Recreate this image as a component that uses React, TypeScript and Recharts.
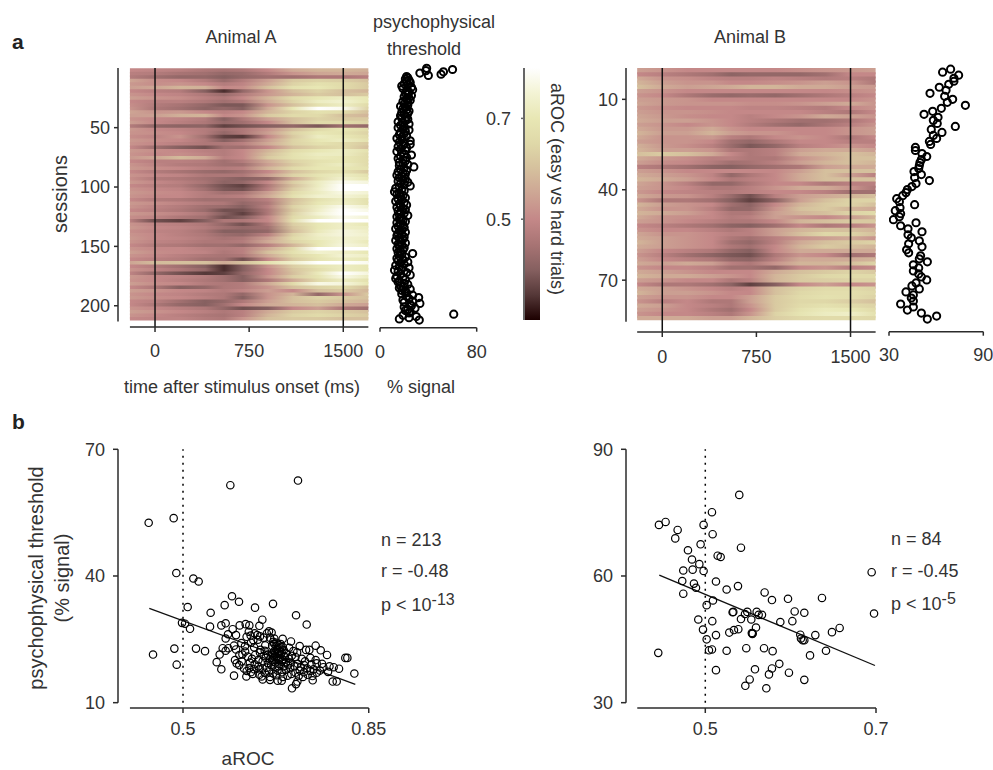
import { ReferenceArea, ReferenceLine, Scatter, ScatterChart, XAxis, YAxis } from 'recharts'

const FONT = '"Liberation Sans", Arial, sans-serif'
const INK = '#333'
const AXIS = '#2b2b2b'

// aROC colour scale
const scaleValues = [0.3, 0.35, 0.4, 0.45, 0.5, 0.55, 0.6, 0.65, 0.7, 0.75, 0.8]
const scaleColors = ['#1c0000', '#553838', '#866060', '#a87474', '#c48888', '#cda594', '#d5c09d', '#dfd8a8', '#e8e7b4', '#f3f3d4', '#ffffff']

// time stops of every heat map row (ms)
const heatTimes = [-200, 0, 200, 400, 550, 700, 900, 1100, 1300, 1500, 1700]

// aROC x 100, top row first
const heatA = [
  [50, 49, 48, 46, 45, 46, 50, 56, 58, 58, 57],
  [48, 47, 45, 44, 42, 43, 47, 52, 55, 56, 55],
  [47, 44, 42, 42, 40, 42, 44, 44, 46, 46, 48],
  [55, 51, 50, 47, 43, 47, 54, 62, 64, 63, 60],
  [53, 51, 52, 50, 47, 49, 56, 64, 68, 66, 62],
  [54, 55, 58, 57, 50, 51, 60, 68, 70, 66, 62],
  [50, 48, 47, 40, 34, 42, 52, 60, 64, 60, 58],
  [52, 50, 49, 46, 43, 47, 53, 58, 62, 60, 62],
  [54, 52, 51, 48, 46, 50, 58, 66, 70, 72, 70],
  [50, 48, 48, 46, 44, 46, 56, 64, 72, 74, 70],
  [51, 47, 45, 42, 39, 39, 52, 60, 68, 72, 66],
  [52, 46, 44, 41, 42, 40, 56, 70, 80, 78, 64],
  [55, 52, 53, 50, 48, 50, 58, 64, 68, 66, 60],
  [54, 54, 57, 58, 50, 52, 62, 66, 66, 60, 58],
  [52, 50, 49, 47, 40, 46, 54, 60, 64, 62, 62],
  [54, 50, 48, 46, 42, 44, 50, 60, 66, 66, 64],
  [47, 42, 41, 41, 36, 38, 40, 42, 39, 44, 42],
  [53, 50, 49, 47, 44, 46, 52, 60, 66, 70, 66],
  [52, 51, 50, 47, 42, 46, 54, 64, 70, 68, 64],
  [51, 49, 52, 44, 36, 35, 50, 62, 72, 70, 66],
  [53, 51, 50, 46, 40, 44, 54, 64, 70, 72, 68],
  [52, 50, 48, 46, 46, 48, 56, 64, 68, 66, 62],
  [50, 44, 40, 38, 44, 44, 50, 60, 64, 66, 60],
  [53, 51, 50, 48, 47, 50, 58, 66, 70, 72, 68],
  [52, 50, 51, 49, 47, 50, 60, 68, 72, 72, 66],
  [53, 55, 59, 56, 48, 50, 62, 68, 71, 70, 66],
  [50, 48, 48, 47, 44, 47, 56, 64, 68, 70, 66],
  [52, 49, 47, 46, 44, 44, 54, 62, 69, 72, 66],
  [53, 51, 50, 48, 47, 48, 58, 66, 70, 70, 68],
  [50, 47, 45, 43, 42, 44, 50, 60, 65, 68, 62],
  [52, 50, 49, 46, 46, 46, 54, 64, 69, 72, 68],
  [51, 47, 46, 44, 42, 40, 42, 56, 67, 74, 70],
  [53, 50, 48, 45, 41, 42, 50, 63, 72, 78, 76],
  [50, 48, 47, 42, 38, 36, 46, 60, 72, 84, 82],
  [52, 50, 49, 44, 39, 38, 48, 63, 73, 86, 84],
  [53, 51, 50, 47, 44, 45, 54, 66, 72, 77, 75],
  [52, 50, 50, 47, 47, 48, 56, 68, 74, 75, 72],
  [50, 47, 46, 44, 44, 44, 48, 60, 68, 72, 68],
  [53, 51, 49, 47, 46, 42, 46, 61, 70, 73, 68],
  [52, 49, 47, 44, 43, 40, 48, 64, 72, 78, 74],
  [50, 48, 46, 43, 38, 38, 46, 62, 73, 81, 77],
  [53, 51, 49, 46, 40, 36, 46, 64, 75, 88, 86],
  [51, 49, 46, 44, 38, 40, 50, 66, 72, 78, 75],
  [48, 38, 36, 40, 46, 46, 50, 68, 86, 88, 82],
  [52, 49, 48, 46, 42, 38, 46, 63, 70, 73, 70],
  [53, 50, 49, 47, 44, 42, 44, 61, 70, 73, 72],
  [51, 49, 48, 45, 40, 40, 42, 59, 71, 76, 73],
  [52, 50, 48, 46, 43, 42, 48, 64, 73, 76, 74],
  [53, 50, 49, 47, 45, 46, 54, 66, 72, 74, 73],
  [52, 49, 48, 46, 46, 47, 56, 64, 70, 75, 71],
  [50, 47, 46, 44, 44, 42, 48, 58, 70, 76, 73],
  [52, 50, 50, 48, 47, 48, 56, 66, 86, 88, 82],
  [54, 51, 50, 49, 46, 48, 60, 68, 74, 73, 70],
  [52, 50, 48, 46, 45, 46, 56, 65, 70, 75, 73],
  [50, 48, 47, 44, 44, 38, 50, 62, 69, 72, 70],
  [55, 59, 60, 60, 56, 60, 68, 74, 85, 85, 78],
  [50, 47, 44, 40, 34, 40, 52, 63, 69, 72, 70],
  [52, 49, 46, 42, 34, 40, 50, 61, 67, 72, 70],
  [49, 42, 38, 35, 36, 42, 50, 60, 71, 81, 76],
  [53, 50, 49, 47, 44, 40, 52, 63, 69, 77, 72],
  [52, 50, 48, 46, 44, 40, 46, 56, 66, 72, 68],
  [54, 51, 50, 47, 46, 47, 56, 66, 77, 76, 70],
  [50, 46, 40, 42, 46, 47, 52, 60, 64, 66, 60],
  [54, 52, 50, 49, 47, 49, 54, 50, 60, 62, 58],
  [52, 50, 49, 47, 46, 42, 52, 58, 42, 52, 62],
  [53, 51, 50, 48, 46, 40, 52, 60, 64, 62, 60],
  [50, 48, 44, 40, 42, 46, 54, 60, 62, 60, 58],
  [50, 46, 42, 40, 44, 50, 56, 58, 60, 56, 54],
  [52, 50, 48, 46, 42, 38, 40, 50, 54, 46, 44],
  [54, 52, 50, 48, 46, 48, 56, 62, 64, 62, 60],
  [52, 50, 48, 46, 45, 48, 58, 64, 66, 64, 62],
  [50, 49, 49, 47, 46, 52, 60, 62, 62, 60, 60],
]

const heatB = [
  [54, 52, 50, 50, 50, 50, 50, 51, 52, 53, 54],
  [50, 48, 46, 44, 41, 42, 42, 42, 44, 50, 50],
  [56, 52, 51, 49, 48, 48, 49, 48, 47, 48, 46],
  [58, 54, 52, 52, 50, 50, 51, 52, 54, 52, 46],
  [60, 56, 54, 55, 56, 58, 58, 56, 56, 54, 53],
  [54, 52, 50, 50, 50, 50, 50, 50, 50, 51, 52],
  [52, 50, 46, 43, 42, 43, 42, 44, 46, 48, 50],
  [54, 53, 52, 50, 50, 50, 50, 50, 50, 50, 52],
  [55, 53, 52, 52, 52, 51, 51, 52, 54, 56, 52],
  [53, 51, 50, 50, 50, 49, 49, 48, 47, 50, 52],
  [54, 52, 52, 51, 50, 50, 50, 50, 48, 46, 50],
  [55, 53, 51, 50, 50, 48, 50, 52, 56, 54, 52],
  [56, 54, 54, 52, 50, 48, 46, 44, 44, 46, 50],
  [54, 52, 50, 52, 50, 47, 44, 42, 45, 48, 52],
  [56, 53, 53, 56, 52, 50, 50, 50, 50, 52, 54],
  [58, 54, 54, 58, 54, 52, 52, 50, 50, 52, 54],
  [56, 52, 52, 53, 48, 46, 50, 52, 50, 46, 50],
  [54, 52, 52, 50, 44, 42, 46, 50, 50, 48, 48],
  [57, 53, 51, 48, 43, 39, 42, 48, 50, 52, 50],
  [58, 54, 54, 52, 46, 46, 48, 54, 56, 56, 54],
  [60, 62, 60, 56, 50, 46, 48, 56, 58, 60, 58],
  [56, 53, 51, 48, 48, 46, 46, 52, 56, 60, 60],
  [54, 51, 50, 47, 44, 45, 48, 54, 58, 60, 58],
  [48, 46, 44, 41, 40, 42, 44, 46, 54, 56, 56],
  [54, 52, 50, 50, 50, 50, 50, 54, 60, 60, 60],
  [56, 54, 52, 49, 42, 46, 50, 56, 60, 54, 48],
  [58, 56, 54, 50, 46, 48, 50, 56, 60, 60, 60],
  [55, 52, 48, 42, 42, 46, 50, 50, 46, 48, 48],
  [54, 52, 50, 46, 46, 48, 52, 56, 56, 52, 46],
  [53, 50, 49, 48, 47, 48, 50, 50, 48, 44, 44],
  [56, 53, 52, 48, 43, 38, 48, 54, 56, 58, 60],
  [52, 46, 46, 44, 40, 36, 41, 54, 60, 64, 64],
  [58, 54, 52, 50, 44, 41, 50, 58, 62, 64, 60],
  [56, 52, 52, 48, 42, 42, 52, 60, 62, 58, 56],
  [58, 56, 54, 50, 46, 46, 54, 58, 60, 64, 66],
  [56, 52, 51, 50, 47, 48, 54, 52, 50, 54, 58],
  [54, 52, 50, 48, 46, 46, 50, 58, 60, 62, 62],
  [50, 48, 46, 44, 41, 40, 44, 50, 46, 48, 52],
  [52, 50, 50, 48, 46, 48, 54, 58, 60, 60, 58],
  [55, 52, 52, 50, 48, 48, 54, 60, 65, 64, 60],
  [56, 54, 52, 50, 46, 44, 48, 52, 54, 56, 52],
  [58, 54, 52, 50, 44, 42, 48, 56, 60, 62, 64],
  [56, 54, 52, 50, 46, 44, 50, 58, 62, 60, 58],
  [54, 50, 48, 46, 42, 40, 50, 56, 56, 56, 56],
  [52, 48, 44, 41, 39, 38, 46, 52, 50, 44, 46],
  [54, 50, 48, 46, 42, 41, 48, 56, 56, 56, 58],
  [56, 54, 56, 54, 48, 46, 52, 58, 58, 60, 64],
  [52, 50, 50, 48, 44, 44, 42, 50, 52, 48, 50],
  [56, 54, 52, 50, 50, 50, 56, 60, 62, 64, 62],
  [58, 56, 56, 54, 52, 50, 58, 62, 65, 66, 66],
  [54, 52, 50, 50, 46, 48, 58, 62, 63, 64, 64],
  [50, 46, 46, 44, 41, 36, 40, 50, 54, 50, 52],
  [56, 54, 52, 50, 48, 50, 60, 64, 66, 66, 64],
  [58, 54, 54, 52, 50, 50, 60, 65, 67, 67, 65],
  [54, 52, 52, 50, 50, 54, 62, 66, 68, 67, 64],
  [52, 48, 50, 46, 46, 54, 62, 65, 65, 63, 60],
  [56, 54, 50, 48, 46, 52, 62, 66, 68, 66, 64],
  [54, 52, 50, 46, 44, 50, 62, 68, 71, 70, 66],
  [52, 50, 50, 48, 46, 52, 64, 69, 72, 73, 68],
  [56, 56, 56, 54, 54, 58, 63, 65, 66, 66, 65],
]

// psychophysical threshold per session (% signal)
const thresholdA = [
  38.6, 60, 38, 52.5, 33, 50.5, 40, 22, 23, 21,
  24, 22, 25, 20, 23, 18, 26, 19, 27, 22,
  24, 21, 23, 26, 20, 24, 22, 25, 19, 23,
  20, 23, 17, 21, 19, 22, 24, 18, 23, 20,
  17, 22, 18, 23, 21, 15, 19, 24, 17, 20,
  15, 19, 24, 21, 17, 20, 16, 22, 18, 14,
  18, 25, 16, 20, 25, 19, 15, 22, 17, 21,
  14, 18, 20, 26, 17, 22, 15, 19, 21, 16,
  19, 23, 16, 28, 20, 17, 22, 15, 19, 21,
  14, 18, 16, 21, 19, 15, 23, 17, 20, 25,
  16, 13, 18, 20, 12, 16, 14, 19, 17, 21,
  15, 18, 13, 20, 16, 22, 17, 14, 19, 21,
  15, 17, 20, 16, 23, 14, 18, 16, 19, 21,
  14, 17, 19, 15, 20, 13, 18, 16, 21, 15,
  18, 14, 20, 16, 19, 13, 17, 21, 15, 18,
  16, 20, 14, 19, 17, 15, 27, 18, 16, 21,
  14, 19, 15, 23, 17, 20, 13, 16, 24, 18,
  12, 15, 22, 17, 25, 14, 19, 13, 21, 16,
  15, 20, 23, 17, 19, 16, 25, 18, 21, 22,
  18, 27, 22, 32, 24, 19, 27, 20, 33, 25,
  26, 20, 29, 23, 21, 25, 24, 61, 19, 30,
  24, 16, 32.5,
]

const thresholdB = [
  69.2, 64.1, 74.3, 71.3, 71.3, 68, 62, 66.3, 56.1, 65.4,
  70.5, 67.1, 78.6, 63.3, 57.8, 52.3, 61.2, 58.2, 60.7, 72.2,
  56.9, 63.7, 58.2, 60.3, 55.7, 56.5, 46.8, 46.8, 51, 54,
  50.6, 49.7, 49.3, 48.9, 45.9, 50.6, 46.3, 55.7, 47.2, 44.6,
  41.7, 40.8, 38.7, 34.9, 36.6, 46.3, 37, 34, 37.4, 36.6,
  32.8, 47.2, 37.4, 42.1, 51, 42.1, 44.2, 49.3, 42.5, 51,
  41.2, 42.5, 50.1, 49.3, 54.4, 45.5, 48.9, 45.5, 48.9, 50.6,
  54, 47.2, 44.6, 49.3, 40.8, 45.5, 44.2, 45.5, 37.4, 45.5,
  41.7, 50.6, 60.3, 54.4,
]

// panel b, animal A
const rocA = [
  0.4353, 0.4824, 0.5892, 0.7167, 0.4874, 0.5195, 0.5295, 0.5923, 0.6055, 0.5785,
  0.5088, 0.6357, 0.6696, 0.5521, 0.713, 0.6495, 0.7331, 0.4981, 0.5038, 0.5132,
  0.5509, 0.5722, 0.5804, 0.5936, 0.6068, 0.6181, 0.625, 0.6439, 0.4435, 0.4837,
  0.4881, 0.5245, 0.5415, 0.5635, 0.5722, 0.5691, 0.5961, 0.6194, 0.5804, 0.5848,
  0.5999, 0.5748, 0.5804, 0.5854, 0.5961, 0.5999, 0.598, 0.6011, 0.6106, 0.6062,
  0.6199, 0.6275, 0.64, 0.6168, 0.6326, 0.7035, 0.6878, 0.7199, 0.7318, 0.7381,
  0.75, 0.7595, 0.7714, 0.7519, 0.7645, 0.7839, 0.794, 0.8059, 0.8097, 0.8229,
  0.7821, 0.7896, 0.7733, 0.7444, 0.7054, 0.7155, 0.713, 0.686, 0.6784, 0.664,
  0.6501, 0.6482, 0.6313, 0.625, 0.6439,
  0.628, 0.634, 0.641, 0.646, 0.652, 0.655, 0.658, 0.662, 0.667, 0.672,
  0.676, 0.68, 0.684, 0.688, 0.678, 0.672, 0.682, 0.69, 0.694, 0.668,
  0.66, 0.652, 0.645, 0.636, 0.63, 0.622, 0.626, 0.635, 0.642, 0.65,
  0.656, 0.664, 0.67, 0.676, 0.682, 0.688, 0.694, 0.7, 0.705, 0.712,
  0.698, 0.69, 0.682, 0.674, 0.666, 0.658, 0.65, 0.642, 0.634, 0.628,
  0.644, 0.654, 0.662, 0.67, 0.678, 0.686, 0.694, 0.702, 0.71, 0.716,
  0.722, 0.728, 0.734, 0.74, 0.746, 0.752, 0.758, 0.728, 0.72, 0.712,
  0.704, 0.697, 0.688, 0.676, 0.664, 0.718, 0.726, 0.735, 0.744, 0.703,
  0.708, 0.7, 0.715, 0.724, 0.73, 0.742, 0.75, 0.762, 0.776, 0.74,
  0.668, 0.676, 0.684, 0.69, 0.678, 0.672, 0.68, 0.686, 0.674, 0.66,
  0.654, 0.67, 0.664, 0.645, 0.635, 0.617, 0.612, 0.606, 0.615, 0.62,
  0.61, 0.624, 0.674, 0.678, 0.682, 0.67, 0.668, 0.684, 0.676, 0.672,
  0.686, 0.692, 0.68,
]
const thrA = [
  52.6, 53.7, 61.5, 62.6, 40.7, 39.4, 38.7, 35.2, 33.9, 33.1,
  32.65, 32.5, 33.4, 31.3, 30.7, 29.65, 28.5, 28.9, 28.7, 27.5,
  28, 28.3, 28.8, 27.4, 28.3, 28.6, 28.3, 28.2, 21.4, 22.8,
  19, 22.8, 22.2, 19.6, 17.9, 21.4, 16.4, 16.2, 25.2, 26.2,
  26, 22.9, 22.3, 22.9, 23.5, 22.6, 20.1, 19.3, 19.8, 21.3,
  25.6, 25.9, 26, 23.4, 24.8, 24.5, 25.1, 23.4, 22.5, 22.5,
  23.5, 22.4, 21.3, 19.3, 18.4, 18.4, 18.05, 20.6, 20.6, 16.9,
  15, 15, 17.3, 15.3, 13.4, 15, 14.4, 15.2, 15.2, 15.4,
  15.5, 16.2, 16.8, 18.2, 17.9,
  24.2, 23.1, 24.9, 22.5, 25.4, 23.6, 26.4, 26.9, 26.6, 25.2,
  24.2, 23.7, 23.9, 23.2, 22.8, 22.2, 22.1, 22.4, 21.7, 21.6,
  21.4, 21.1, 21.9, 21.3, 20.4, 20.9, 19.5, 19.1, 20.1, 19.8,
  20.6, 20.3, 19.7, 20.9, 20.5, 20.1, 19.6, 20.4, 21.1, 20.8,
  18.9, 18.6, 19.1, 18.5, 18.9, 18.3, 18.1, 18.6, 17.9, 17.2,
  16.6, 17.1, 17.4, 16.9, 17.6, 17.2, 17.8, 18.2, 18.6, 19.2,
  18.4, 18.9, 18.1, 17.5, 17.9, 17.1, 17.6, 17.2, 17.6, 17.1,
  16.8, 16.4, 16.1, 16.5, 16.1, 16.3, 16.1, 16.6, 16.3, 19.5,
  22.2, 23, 21.9, 20.4, 19.8, 19.1, 20.1, 19.2, 18.6, 20.6,
  23.4, 22.6, 21.4, 21.1, 21.6, 20.9, 20.1, 19.7, 19.5, 19.4,
  22.3, 24.4, 25.4, 25.7, 26.4, 22.1, 21.4, 18.9, 18.1, 17.5,
  24.1, 26.8, 21.9, 20.4, 22.9, 21.2, 20.1, 23.2, 23.4, 23.9,
  21.9, 20.8, 18.6,
]

// panel b, animal B
const rocB = [
  0.5398, 0.5078, 0.4457, 0.4535, 0.4676, 0.4648, 0.498, 0.5086, 0.4945, 0.4797,
  0.5418, 0.5145, 0.518, 0.4844, 0.493, 0.4742, 0.4852, 0.498, 0.6949, 0.473,
  0.4867, 0.4891, 0.5125, 0.5383, 0.525, 0.4742, 0.5695, 0.5781, 0.5969, 0.6367,
  0.509, 0.5016, 0.6047, 0.616, 0.6977, 0.5328, 0.532, 0.5492, 0.5465, 0.5602,
  0.5625, 0.5664, 0.5418, 0.5539, 0.4918, 0.5082, 0.5879, 0.602, 0.6574, 0.6484,
  0.6289, 0.5594, 0.5387, 0.5336, 0.5281, 0.4973, 0.5125, 0.5555, 0.5551, 0.5016,
  0.6113, 0.6121, 0.6141, 0.616, 0.5043, 0.5078, 0.525, 0.548, 0.5688, 0.5789,
  0.6414, 0.6227, 0.4449, 0.5125, 0.5582, 0.5867, 0.5781, 0.5746, 0.598, 0.616,
  0.552, 0.5469, 0.5715, 0.5545,
]
const thrB = [
  79.2, 75.1, 72.1, 72.8, 70.9, 68.9, 72.1, 69.9, 67.5, 66.1,
  66.7, 64.8, 64.5, 63.9, 62.8, 61.3, 61.5, 61.2, 60.9, 58.8,
  58.2, 57.2, 58.7, 57.6, 56.8, 55.8, 56.1, 54.3, 54.6, 54.8,
  54.2, 53.1, 51.6, 51.3, 51.1, 51.5, 51.4, 51.5, 51, 51.5,
  50.8, 50.8, 49.8, 49.7, 49.7, 49.3, 49.1, 49.3, 47.7, 46.7,
  46, 47.8, 47.4, 47.2, 46.6, 47.3, 46, 46.4, 46.3, 45,
  46.1, 45.2, 44.8, 44.8, 42.4, 42.6, 42.3, 42.9, 42.9, 42.2,
  42.3, 41.2, 41.8, 37.7, 37.9, 39.2, 38.1, 36.7, 37.1, 35.4,
  35.5, 34, 33.4, 46.5,
]

const fitA = [{ x: 0.4365, y: 32.35 }, { x: 0.8247, y: 14.36 }]
const fitB = [{ x: 0.4461, y: 60.2 }, { x: 0.6988, y: 38.8 }]

const toRgb = (hex: string) => [1, 3, 5].map((i) => parseInt(hex.slice(i, i + 2), 16))

const scaleColor = (v: number) => {
  const last = scaleValues.length - 1
  if (v <= scaleValues[0]) return scaleColors[0]
  if (v >= scaleValues[last]) return scaleColors[last]
  let i = 0
  while (v > scaleValues[i + 1]) i++
  const f = (v - scaleValues[i]) / (scaleValues[i + 1] - scaleValues[i])
  const a = toRgb(scaleColors[i])
  const b = toRgb(scaleColors[i + 1])
  return `rgb(${a.map((c, k) => Math.round(c + (b[k] - c) * f)).join(',')})`
}

const Layer = ({ children }: { children: React.ReactNode }) => (
  <div style={{ position: 'absolute', left: 0, top: 0, width: 993, height: 770 }}>{children}</div>
)

const tickStyle = { fill: INK, fontSize: 18, fontFamily: FONT }
const tickLine = { stroke: AXIS, strokeWidth: 1.5 }

const dot = (r: number, w: number) => (p: any) => (
  <circle cx={p.cx} cy={p.cy} r={r} fill="none" stroke="#000" strokeWidth={w} />
)

type HeatProps = {
  id: string
  rows: number[][]
  left: number
  right: number
  top: number
  bottom: number
  xDomain: number[]
  yDomain: number[]
  rowStart: number
  rowEnd: number
  yTicks: number[]
  yAxisEnd: number
  tickMargin: number
}

const HeatPanel = ({ id, rows, left, right, top, bottom, xDomain, yDomain, rowStart, rowEnd, yTicks, yAxisEnd, tickMargin }: HeatProps) => {
  const h = (rowEnd - rowStart) / rows.length
  return (
    <Layer>
      <ScatterChart width={993} height={770} margin={{ left: left - 50, right: 993 - right, top, bottom: 770 - bottom - 40 }}>
        <defs>
          {rows.map((row, i) => (
            <linearGradient key={i} id={`${id}${i}`} x1="0" y1="0" x2="1" y2="0">
              {row.map((v, k) => (
                <stop key={k} offset={(heatTimes[k] + 200) / 1900} stopColor={scaleColor(v / 100)} />
              ))}
            </linearGradient>
          ))}
        </defs>
        <XAxis type="number" dataKey="x" domain={xDomain} allowDataOverflow ticks={[0, 750, 1500]} interval={0} height={40}
          axisLine={false} tickLine={tickLine} tickSize={5} tickMargin={tickMargin} tick={tickStyle} />
        <YAxis type="number" dataKey="y" domain={yDomain} allowDataOverflow reversed ticks={yTicks} interval={0} width={50}
          axisLine={false} tickLine={tickLine} tickSize={4} tickMargin={4} tick={tickStyle} />
        <Scatter data={[]} isAnimationActive={false} />
        {rows.map((_, i) => (
          <ReferenceArea key={i} x1={-200} x2={1700} y1={rowStart + i * h}
            y2={Math.min(rowEnd, rowStart + (i + 1.5) * h)} fill={`url(#${id}${i})`} fillOpacity={1} stroke="none" />
        ))}
        <ReferenceLine x={0} stroke="#111" strokeWidth={1.5} segment={[{ x: 0, y: rowStart }, { x: 0, y: rowEnd }]} />
        <ReferenceLine x={1500} stroke="#111" strokeWidth={1.5} segment={[{ x: 1500, y: rowStart }, { x: 1500, y: rowEnd }]} />
        <ReferenceLine stroke={AXIS} strokeWidth={1.5} segment={[{ x: xDomain[0], y: yDomain[0] }, { x: xDomain[0], y: yAxisEnd }]} />
        <ReferenceLine stroke={AXIS} strokeWidth={1.5} segment={[{ x: -200, y: yDomain[1] }, { x: 1700, y: yDomain[1] }]} />
      </ScatterChart>
    </Layer>
  )
}

type ThresholdProps = {
  values: number[]
  left: number
  right: number
  top: number
  bottom: number
  xDomain: number[]
  yDomain: number[]
  tickMargin: number
}

const ThresholdPanel = ({ values, left, right, top, bottom, xDomain, yDomain, tickMargin }: ThresholdProps) => (
  <Layer>
    <ScatterChart width={993} height={770} margin={{ left, right: 993 - right, top, bottom: 770 - bottom - 40 }}>
      <XAxis type="number" dataKey="x" domain={xDomain} allowDataOverflow ticks={xDomain} interval={0} height={40}
        axisLine={{ stroke: AXIS, strokeWidth: 1.5 }} tickLine={tickLine} tickSize={4} tickMargin={tickMargin} tick={tickStyle} />
      <YAxis type="number" dataKey="y" domain={yDomain} allowDataOverflow reversed hide />
      <Scatter data={values.map((x, y) => ({ x, y }))} isAnimationActive={false} shape={dot(3.6, 2)} />
    </ScatterChart>
  </Layer>
)

const ColorBar = () => (
  <Layer>
    <ScatterChart width={993} height={770} margin={{ left: 524 - 50, right: 993 - 540, top: 68, bottom: 770 - 320 }}>
      <defs>
        <linearGradient id="colorbar" x1="0" y1="1" x2="0" y2="0">
          {scaleValues.map((v, i) => (
            <stop key={v} offset={(v - 0.3) / 0.5} stopColor={scaleColors[i]} />
          ))}
        </linearGradient>
      </defs>
      <XAxis type="number" dataKey="x" domain={[0, 1]} allowDataOverflow hide />
      <YAxis type="number" dataKey="y" domain={[0.3, 0.8]} allowDataOverflow ticks={[0.5, 0.7]} interval={0} width={50}
        axisLine={{ stroke: '#666', strokeWidth: 2 }} tickLine={{ stroke: '#666', strokeWidth: 1.5 }} tickSize={3} tickMargin={10} tick={tickStyle} />
      <Scatter data={[]} isAnimationActive={false} />
      <ReferenceArea x1={0} x2={1} y1={0.3} y2={0.8} fill="url(#colorbar)" fillOpacity={1} stroke="none" />
    </ScatterChart>
  </Layer>
)

type ScatterProps = {
  xs: number[]
  ys: number[]
  fit: { x: number; y: number }[]
  left: number
  right: number
  xDomain: number[]
  yDomain: number[]
  xStart: number
  xTicks: number[]
  yTicks: number[]
}

const ScatterPanel = ({ xs, ys, fit, left, right, xDomain, yDomain, xStart, xTicks, yTicks }: ScatterProps) => (
  <Layer>
    <ScatterChart width={993} height={770} margin={{ left: left - 50, right: 993 - right, top: 449, bottom: 770 - 708 - 40 }}>
      <XAxis type="number" dataKey="x" domain={xDomain} allowDataOverflow ticks={xTicks} interval={0} height={40}
        axisLine={false} tickLine={tickLine} tickSize={5} tickMargin={9} tick={tickStyle} />
      <YAxis type="number" dataKey="y" domain={yDomain} allowDataOverflow ticks={yTicks} interval={0} width={50}
        axisLine={false} tickLine={tickLine} tickSize={5} tickMargin={8} tick={tickStyle} />
      <ReferenceLine stroke={AXIS} strokeWidth={1.5} segment={[{ x: xDomain[0], y: yTicks[0] }, { x: xDomain[0], y: yTicks[2] }]} />
      <ReferenceLine stroke={AXIS} strokeWidth={1.5} segment={[{ x: xStart, y: yDomain[0] }, { x: xTicks[1], y: yDomain[0] }]} />
      <ReferenceLine stroke="#000" strokeWidth={1.5} strokeDasharray="2 5" segment={[{ x: 0.5, y: yTicks[0] }, { x: 0.5, y: yTicks[2] }]} />
      <ReferenceLine stroke="#111" strokeWidth={1.3} segment={fit} />
      <Scatter data={xs.map((x, i) => ({ x, y: ys[i] }))} isAnimationActive={false} shape={dot(3.7, 1.2)} />
    </ScatterChart>
  </Layer>
)

const Labels = () => {
  const t = { fontFamily: FONT, fontSize: 18, fill: INK }
  const big = { fontFamily: FONT, fontSize: 20, fill: INK }
  return (
    <svg width={993} height={770} style={{ position: 'absolute', left: 0, top: 0 }}>
      <text x={12} y={49} fontFamily={FONT} fontSize={21} fontWeight="bold" fill="#222">a</text>
      <text x={12} y={429} fontFamily={FONT} fontSize={21} fontWeight="bold" fill="#222">b</text>
      <text {...t} x={241} y={43} textAnchor="middle">Animal A</text>
      <text {...t} x={750} y={43} textAnchor="middle">Animal B</text>
      <text {...t} x={434} y={28} textAnchor="middle">psychophysical</text>
      <text {...t} x={424} y={55} textAnchor="middle">threshold</text>
      <text {...t} x={242} y={393} textAnchor="middle">time after stimulus onset (ms)</text>
      <text {...t} x={421} y={393} textAnchor="middle">% signal</text>
      <text {...big} transform="translate(67,194) rotate(-90)" textAnchor="middle">sessions</text>
      <text {...t} transform="translate(551,189) rotate(90)" textAnchor="middle">aROC (easy vs hard trials)</text>
      <text {...big} transform="translate(43,578) rotate(-90)" textAnchor="middle">psychophysical threshold</text>
      <text {...big} transform="translate(69,578) rotate(-90)" textAnchor="middle">(% signal)</text>
      <text fontFamily={FONT} fontSize={19} fill={INK} x={248} y={765} textAnchor="middle">aROC</text>
      <text {...t} x={381} y={546}>n = 213</text>
      <text {...t} x={381} y={577}>r = -0.48</text>
      <text {...t} x={381} y={611}>p &lt; 10<tspan dy={-6} fontSize={16}>-13</tspan></text>
      <text {...t} x={891} y={545}>n = 84</text>
      <text {...t} x={891} y={577}>r = -0.45</text>
      <text {...t} x={891} y={610}>p &lt; 10<tspan dy={-6} fontSize={16}>-5</tspan></text>
    </svg>
  )
}

const App = () => (
  <div style={{ position: 'absolute', left: 0, top: 0, width: 993, height: 770, background: '#fff', overflow: 'hidden' }}>
    <HeatPanel id="ha" rows={heatA} left={118} right={369} top={68} bottom={327} xDomain={[-295, 1705]} yDomain={[-0.25, 217.9]}
      rowStart={0} rowEnd={212.5} yTicks={[50, 100, 150, 200]} yAxisEnd={213.3} tickMargin={12} />
    <ThresholdPanel values={thresholdA} left={380} right={476.7} top={58} bottom={327.7} xDomain={[0, 80]} yDomain={[-8.67, 218.4]} tickMargin={14} />
    <ColorBar />
    <HeatPanel id="hb" rows={heatB} left={626} right={876} top={68} bottom={332} xDomain={[-289, 1703]} yDomain={[-0.4, 87.2]}
      rowStart={-0.4} rowEnd={83.3} yTicks={[10, 40, 70]} yAxisEnd={83.8} tickMargin={13} />
    <ThresholdPanel values={thresholdB} left={889} right={983.3} top={58} bottom={331.7} xDomain={[30, 90]} yDomain={[-3.72, 87.2]} tickMargin={13} />
    <ScatterPanel xs={rocA} ys={thrA} fit={fitA} left={118} right={369} xDomain={[0.3775, 0.8505]} yDomain={[8.74, 70.07]} xStart={0.4}
      xTicks={[0.5, 0.85]} yTicks={[10, 40, 70]} />
    <ScatterPanel xs={rocB} ys={thrB} fit={fitB} left={626} right={890} xDomain={[0.4071, 0.7164]} yDomain={[28.74, 90.07]} xStart={0.4203}
      xTicks={[0.5, 0.7]} yTicks={[30, 60, 90]} />
    <Labels />
  </div>
)

export default App
